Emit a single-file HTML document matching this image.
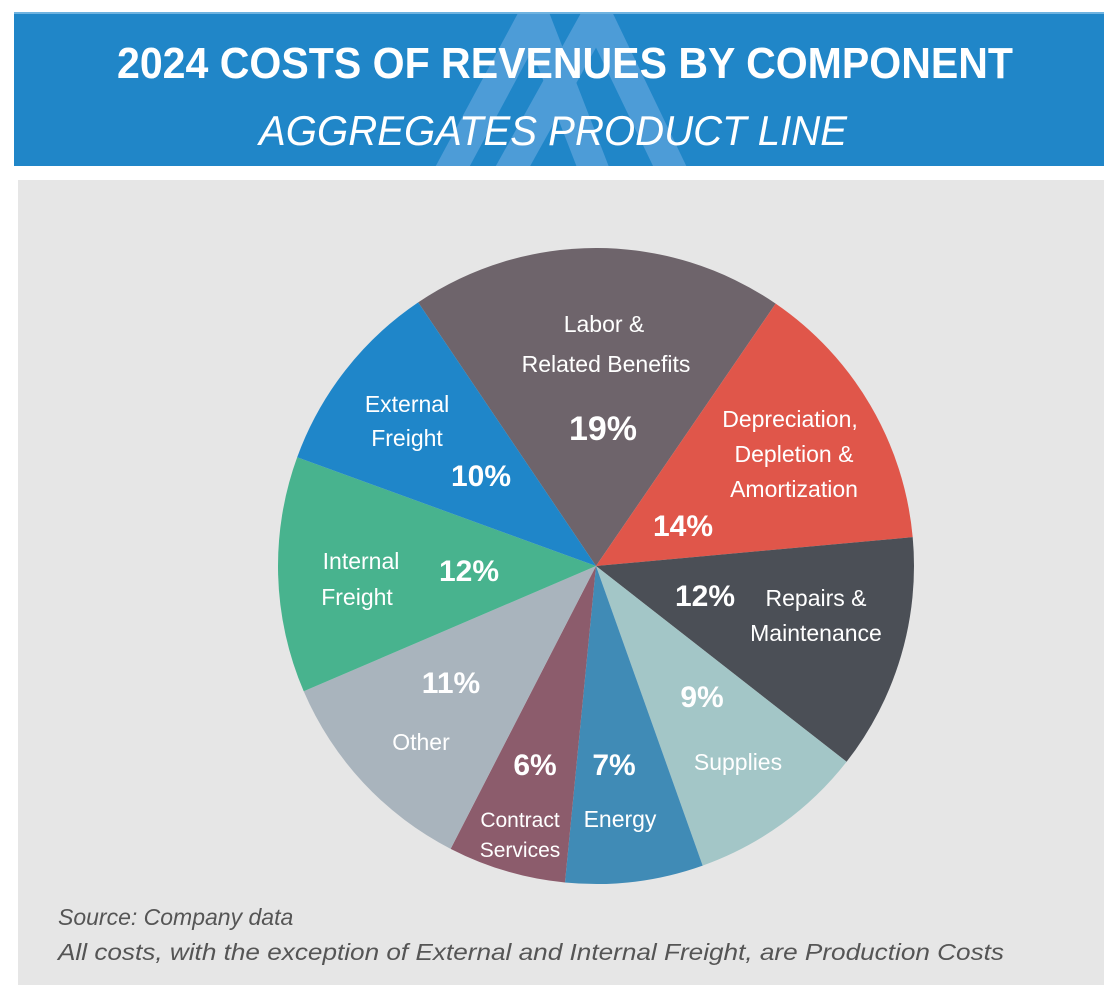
<!DOCTYPE html>
<html><head><meta charset="utf-8"><style>
html,body{margin:0;padding:0;background:#fff;width:1118px;height:999px;overflow:hidden}
svg{display:block;font-family:"Liberation Sans",sans-serif}
</style></head><body>
<svg id="chart" width="1118" height="999" viewBox="0 0 1118 999">
<defs><clipPath id="bc"><rect x="14" y="14" width="1090" height="152"/></clipPath></defs>
<rect x="14" y="12" width="1090" height="154" fill="#2086c8"/>
<line x1="14" y1="13" x2="1104" y2="13" stroke="#6fb3e0" stroke-width="2"/>
<g clip-path="url(#bc)" stroke="#5da4dc" stroke-width="30" opacity="0.75" fill="none">
<polyline points="448,175 534,15 596,175" stroke-linejoin="miter"/>
<polyline points="508,175 597,15 674,175" stroke-linejoin="miter"/>
</g>
<text x="565" y="78" text-anchor="middle" fill="#fff" font-weight="bold" font-size="44" textLength="896" lengthAdjust="spacingAndGlyphs">2024 COSTS OF REVENUES BY COMPONENT</text>
<text x="553" y="145" text-anchor="middle" fill="#fff" font-style="italic" font-size="42" textLength="588" lengthAdjust="spacingAndGlyphs">AGGREGATES PRODUCT LINE</text>
<rect x="18" y="180" width="1086" height="805" fill="#e6e6e6"/>
<g id="pie"></g>
<g fill="#fff" font-size="23" text-anchor="middle">
<text x="604" y="332">Labor &amp;</text><text x="606" y="372">Related Benefits</text>
<text x="603" y="440" font-size="34" font-weight="bold">19%</text>
<text x="790" y="427">Depreciation,</text><text x="794" y="462">Depletion &amp;</text><text x="794" y="497">Amortization</text>
<text x="683" y="536" font-size="30" font-weight="bold">14%</text>
<text x="705" y="606" font-size="30" font-weight="bold">12%</text>
<text x="816" y="606">Repairs &amp;</text><text x="816" y="641">Maintenance</text>
<text x="702" y="707" font-size="30" font-weight="bold">9%</text>
<text x="738" y="770">Supplies</text>
<text x="614" y="775" font-size="30" font-weight="bold">7%</text>
<text x="620" y="827">Energy</text>
<text x="535" y="775" font-size="30" font-weight="bold">6%</text>
<text x="520" y="827" font-size="21">Contract</text><text x="520" y="857" font-size="21">Services</text>
<text x="451" y="693" font-size="30" font-weight="bold">11%</text>
<text x="421" y="750">Other</text>
<text x="361" y="569">Internal</text><text x="357" y="605">Freight</text>
<text x="469" y="581" font-size="30" font-weight="bold">12%</text>
<text x="407" y="412">External</text><text x="407" y="446">Freight</text>
<text x="481" y="486" font-size="30" font-weight="bold">10%</text>
</g>
<text x="58" y="925" fill="#555" font-style="italic" font-size="23">Source: Company data</text>
<text x="58" y="960" fill="#555" font-style="italic" font-size="23" textLength="946" lengthAdjust="spacingAndGlyphs">All costs, with the exception of External and Internal Freight, are Production Costs</text>
</svg>
<script>
const categories=["Labor & Related Benefits","Depreciation, Depletion & Amortization","Repairs & Maintenance","Supplies","Energy","Contract Services","Other","Internal Freight","External Freight"];
const values=[19,14,12,9,7,6,11,12,10];
const colors=["#6e646b","#e0564a","#4b4f56","#a3c6c7","#408bb6","#8c5c6c","#a9b4bd","#48b38e","#1f86c9"];
const cx=596,cy=566,r=318,startDeg=-34;
const total=values.reduce((a,b)=>a+b,0);
const g=document.getElementById('pie');
let a=startDeg;
function pt(d){const t=d*Math.PI/180;return [cx+r*Math.sin(t),cy-r*Math.cos(t)];}
values.forEach((v,i)=>{
 const span=v/total*360;const p1=pt(a),p2=pt(a+span);
 const path=document.createElementNS('http://www.w3.org/2000/svg','path');
 path.setAttribute('d',`M${cx},${cy}L${p1[0]},${p1[1]}A${r},${r} 0 ${span>180?1:0} 1 ${p2[0]},${p2[1]}Z`);
 path.setAttribute('fill',colors[i]);
 
 
 g.appendChild(path);a+=span;
});
</script>
</body></html>
